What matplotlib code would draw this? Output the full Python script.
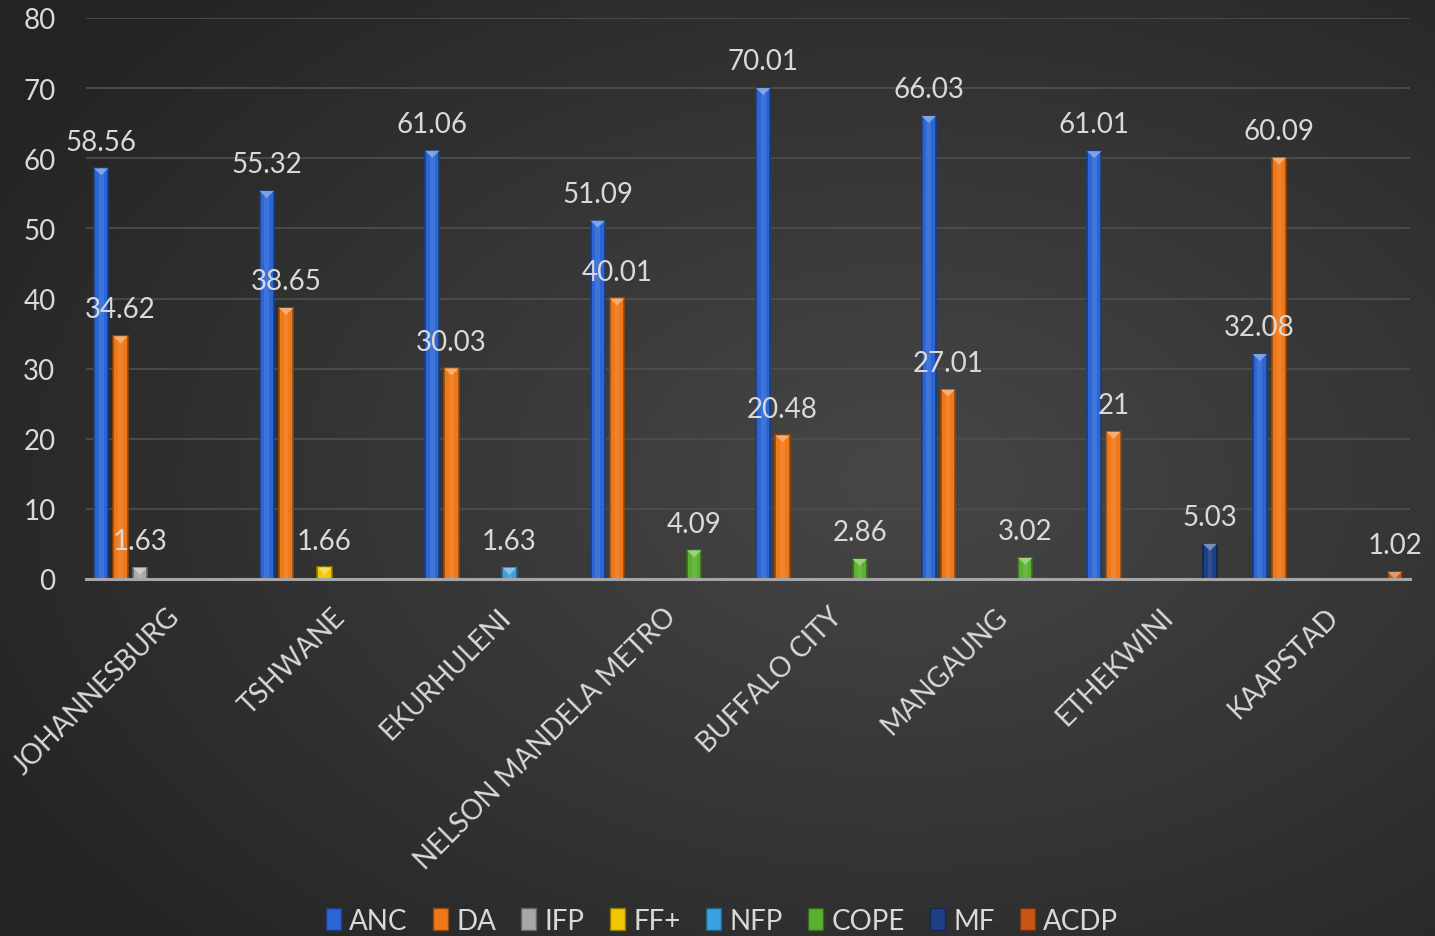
import numpy as np
import matplotlib
matplotlib.use("Agg")
import matplotlib.pyplot as plt
from matplotlib.patches import Patch, Polygon
from matplotlib.transforms import ScaledTranslation
from matplotlib.colors import to_rgb

plt.rcParams['font.family'] = ['Lato', 'DejaVu Sans']

categories = ["JOHANNESBURG", "TSHWANE", "EKURHULENI", "NELSON MANDELA METRO",
              "BUFFALO CITY", "MANGAUNG", "ETHEKWINI", "KAAPSTAD"]
series_names = ["ANC", "DA", "IFP", "FF+", "NFP", "COPE", "MF", "ACDP"]
nan = np.nan
ANC = [58.56, 55.32, 61.06, 51.09, 70.01, 66.03, 61.01, 32.08]
DA = [34.62, 38.65, 30.03, 40.01, 20.48, 27.01, 21, 60.09]
IFP = [1.63, nan, nan, nan, nan, nan, nan, nan]
FFP = [nan, 1.66, nan, nan, nan, nan, nan, nan]
NFP = [nan, nan, 1.63, nan, nan, nan, nan, nan]
COPE = [nan, nan, nan, 4.09, 2.86, 3.02, nan, nan]
MF = [nan, nan, nan, nan, nan, nan, 5.03, nan]
ACDP = [nan, nan, nan, nan, nan, nan, nan, 1.02]
series_values = [ANC, DA, IFP, FFP, NFP, COPE, MF, ACDP]
colors = ["#2c66d6", "#f07818", "#a8a8a8", "#f0c800", "#3aa0e0", "#5cb030", "#1d3f86", "#c85612"]
yticks = [0, 10, 20, 30, 40, 50, 60, 70, 80]

W, H, DPI = 1435, 937, 100
fig = plt.figure(figsize=(W / DPI, H / DPI), dpi=DPI)

# background radial gradient
bg = fig.add_axes([0, 0, 1, 1], zorder=-10)
yy, xx = np.mgrid[0:H, 0:W]
r = np.sqrt(((xx - 900) / W) ** 2 + ((yy - 480) / H) ** 2)
r = np.clip(r / 0.75, 0, 1)
c_in = np.array(to_rgb("#474747"))
c_out = np.array(to_rgb("#232323"))
img = c_in[None, None, :] * (1 - r[..., None]) + c_out[None, None, :] * r[..., None]
bg.imshow(img, aspect='auto', extent=[0, 1, 0, 1], origin='upper')
bg.axis('off')

ax = fig.add_axes([86 / W, 1 - 580 / H, (1410 - 86) / W, (580 - 19) / H])
ax.patch.set_alpha(0)

x = np.arange(len(categories))
slot = 0.1166
bw = 0.086
txtc = "#d9d9d9"


def shade(c, f):
    c = np.array(to_rgb(c))
    if f < 1:
        return tuple(c * f)
    return tuple(c + (1 - c) * (f - 1))


for i, (name, vals, col) in enumerate(zip(series_names, series_values, colors)):
    vals = np.array(vals, dtype=float)
    pos = x + (i - 3.5) * slot
    bars = ax.bar(pos, vals, width=bw, color=col, edgecolor=shade(col, 0.6),
                  linewidth=1.2, zorder=3, label=name)
    for b, v in zip(bars, vals):
        if np.isnan(v):
            continue
        bx, by = b.get_x(), b.get_height()
        # bevel highlight stripe
        ax.bar(bx + bw / 2, v, width=bw * 0.35, color=shade(col, 1.18), linewidth=0, zorder=3.5, alpha=0.5)
        # small top bevel triangle
        tri_h = 1.0
        ax.add_patch(Polygon([[bx, by], [bx + bw, by], [bx + bw / 2, by - tri_h]],
                             closed=True, facecolor=shade(col, 1.4), edgecolor='none', zorder=4))
        ax.annotate(f"{v:g}", (bx + bw / 2, v), xytext=(0, 13.5), textcoords='offset points',
                    ha='center', va='baseline', fontsize=20, color=txtc, zorder=5)

ax.set_xlim(-0.5, len(categories) - 0.5)
ax.set_ylim(0, 80)
ax.set_yticks(yticks)
ax.set_yticklabels([str(t) for t in yticks], fontsize=20, color=txtc)
ax.tick_params(axis='y', length=0, pad=22)
ax.set_xticks(x)
ax.set_xticklabels(categories, fontsize=20, color=txtc, rotation=45,
                   ha='right', va='center', rotation_mode='anchor')
ax.tick_params(axis='x', length=0, pad=0)
off = ScaledTranslation(0.07, -0.33, fig.dpi_scale_trans)
for lab in ax.get_xticklabels():
    lab.set_transform(lab.get_transform() + off)

ax.grid(axis='y', color='#4d4d4d', linewidth=1.3, zorder=0)
ax.set_axisbelow(True)
for s in ['top', 'right', 'left']:
    ax.spines[s].set_visible(False)
ax.spines['bottom'].set_color('#a6a6a6')
ax.spines['bottom'].set_linewidth(2.2)
ax.spines['bottom'].set_zorder(6)

handles = [Patch(facecolor=c, edgecolor=shade(c, 0.6), linewidth=1) for c in colors]
leg = fig.legend(handles, series_names, loc='center', bbox_to_anchor=(722 / W, 1 - 922 / H),
                 ncol=8, frameon=False, fontsize=20, labelcolor=txtc,
                 handlelength=0.55, handleheight=0.85, handletextpad=0.3, columnspacing=0.9,
                 borderpad=0)

fig.savefig("out.png", dpi=DPI)
